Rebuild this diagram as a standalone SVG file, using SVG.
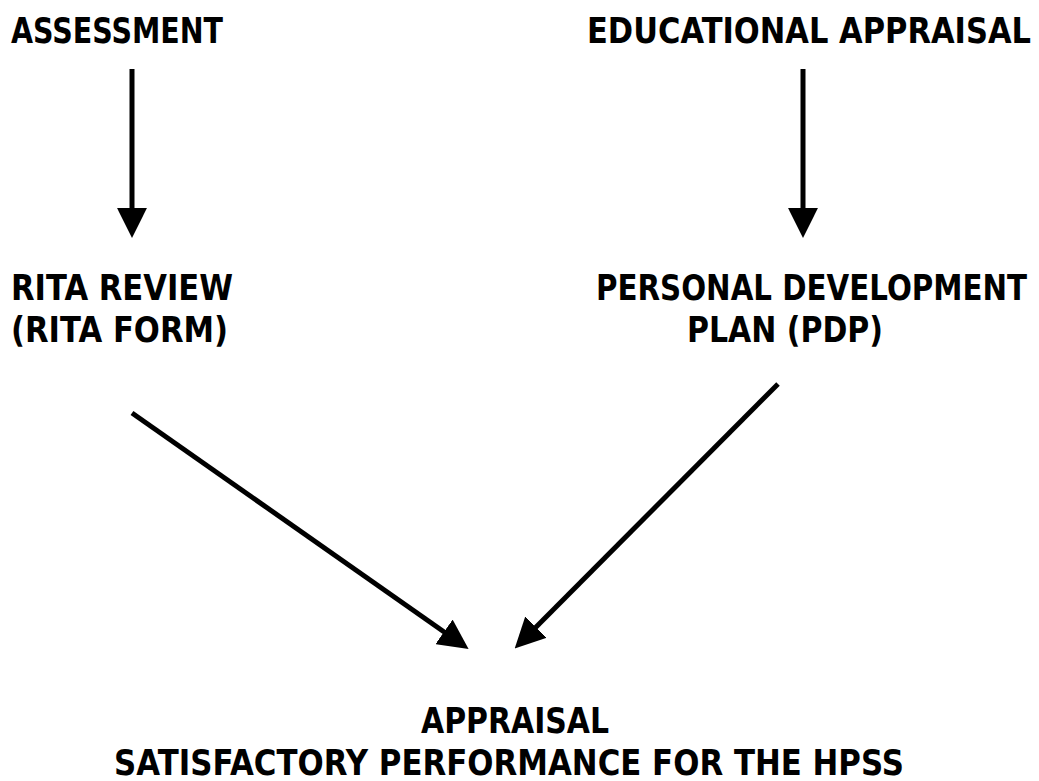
<svg xmlns="http://www.w3.org/2000/svg" width="1039" height="781" viewBox="0 0 1039 781">
<style>
text{font-family:"DejaVu Sans",sans-serif;font-weight:bold;font-size:36px;fill:#000}
.c{stroke:#000;stroke-width:5;fill:none}
</style>
<defs>
<marker id="ah" markerUnits="userSpaceOnUse" markerWidth="30" markerHeight="30" viewBox="0 0 28 28" refX="1" refY="14" orient="auto">
<path d="M0,0 L28,14 L0,28 z" fill="#000"/>
</marker>
</defs>
<rect width="1039" height="781" fill="#fff"/>
<g id="assessment"><text x="11" y="43" textLength="212" lengthAdjust="spacingAndGlyphs">ASSESSMENT</text></g>
<g id="educational-appraisal"><text x="587" y="43" textLength="444" lengthAdjust="spacingAndGlyphs">EDUCATIONAL APPRAISAL</text></g>
<g id="rita-review"><text x="11" y="300" textLength="222" lengthAdjust="spacingAndGlyphs">RITA REVIEW</text><text x="11" y="342" textLength="217" lengthAdjust="spacingAndGlyphs">(RITA FORM)</text></g>
<g id="pdp"><text x="596" y="300" textLength="431" lengthAdjust="spacingAndGlyphs">PERSONAL DEVELOPMENT</text><text x="687" y="342" textLength="196" lengthAdjust="spacingAndGlyphs">PLAN (PDP)</text></g>
<g id="appraisal"><text x="421" y="733" textLength="188" lengthAdjust="spacingAndGlyphs">APPRAISAL</text><text x="114" y="775" textLength="790" lengthAdjust="spacingAndGlyphs">SATISFACTORY PERFORMANCE FOR THE HPSS</text></g>
<g id="connectors">
<line class="c" x1="132" y1="69" x2="132" y2="209" marker-end="url(#ah)"/>
<line class="c" x1="803" y1="69" x2="803" y2="209" marker-end="url(#ah)"/>
<line class="c" x1="132" y1="413" x2="444.9" y2="632.5" marker-end="url(#ah)"/>
<line class="c" x1="778" y1="384" x2="535.1" y2="627.9" marker-end="url(#ah)"/>
</g>
</svg>
